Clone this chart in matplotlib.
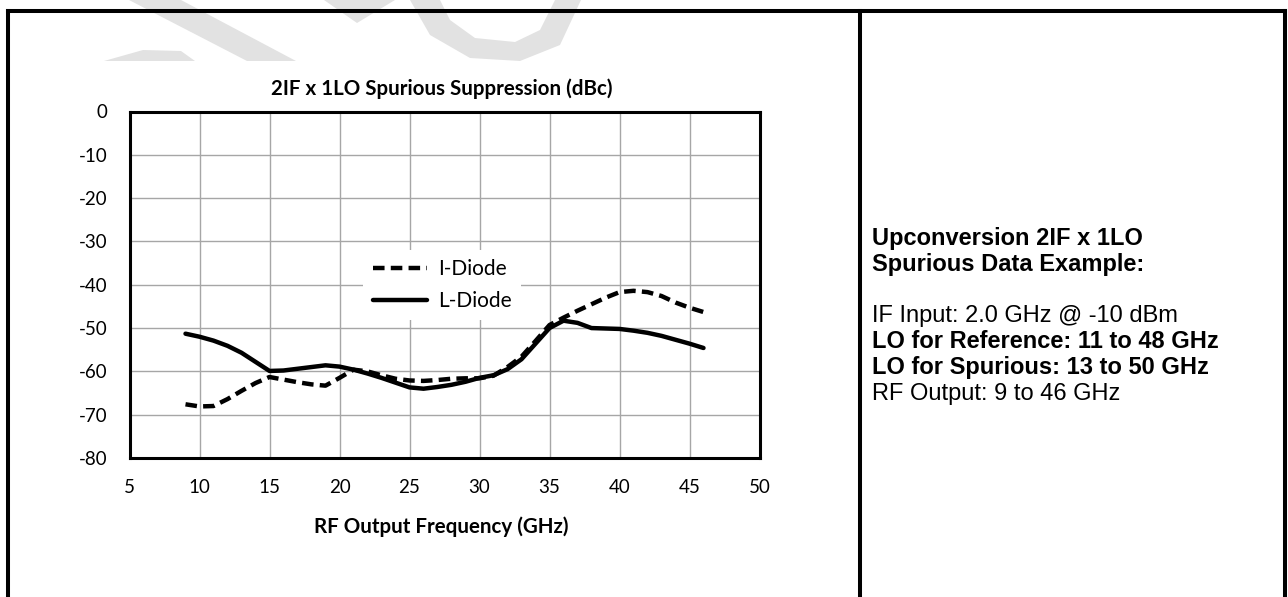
import matplotlib
matplotlib.use('Agg')
import matplotlib.pyplot as plt
from matplotlib.lines import Line2D
from matplotlib.patches import Polygon

plt.rcParams['axes.unicode_minus'] = False

# ---- data ----
freq_ghz = list(range(9, 47))
i_diode = [-67.6, -68.1, -68.0, -66.4, -64.5, -62.7, -61.3, -61.9, -62.5, -63.0,
           -63.3, -61.5, -59.6, -60.0, -60.9, -61.7, -62.1, -62.2, -62.0, -61.7,
           -61.6, -61.6, -61.0, -59.0, -56.6, -53.0, -49.3, -47.6, -46.0, -44.5,
           -43.0, -41.7, -41.4, -41.7, -42.6, -44.1, -45.3, -46.3]
l_diode = [-51.3, -52.0, -52.9, -54.1, -55.7, -57.8, -59.9, -59.8, -59.4, -59.0,
           -58.6, -58.9, -59.6, -60.5, -61.5, -62.6, -63.7, -64.0, -63.6, -63.1,
           -62.4, -61.5, -60.9, -59.5, -57.2, -53.6, -50.0, -48.3, -48.8, -50.0,
           -50.1, -50.2, -50.6, -51.1, -51.8, -52.7, -53.6, -54.6]
series_labels = ["I-Diode", "L-Diode"]
x_ticks = [5, 10, 15, 20, 25, 30, 35, 40, 45, 50]
y_ticks = [0, -10, -20, -30, -40, -50, -60, -70, -80]
title = "2IF x 1LO Spurious Suppression (dBc)"
x_label = "RF Output Frequency (GHz)"
info_lines = [
    ("Upconversion 2IF x 1LO", "bold"),
    ("Spurious Data Example:", "bold"),
    ("IF Input: 2.0 GHz @ -10 dBm", "normal"),
    ("LO for Reference: 11 to 48 GHz", "bold"),
    ("LO for Spurious: 13 to 50 GHz", "bold"),
    ("RF Output: 9 to 46 GHz", "normal"),
]

W, H = 1288, 597
fig = plt.figure(figsize=(W / 100, H / 100), dpi=100)
fig.patch.set_facecolor('white')

def fx(px):
    return px / W

def fy(py):
    return 1 - py / H

CH_FONT = 'Lato'

# ---- faint watermark fragments at the top ----
wm_color = '#e2e2e2'
wm_shapes = [
    [(104, 61), (143, 50), (181, 51), (195, 61)],
    [(129, 0), (181, 0), (296, 61), (247, 61)],
    [(324, 0), (395, 0), (357, 23)],
    [(410, 0), (430, 35), (470, 58), (520, 61), (560, 45), (581, 0),
     (555, 0), (540, 30), (515, 42), (475, 38), (450, 20), (440, 0)],
]
for pts in wm_shapes:
    fig.add_artist(Polygon([(fx(a), fy(b)) for a, b in pts], closed=True,
                           transform=fig.transFigure, facecolor=wm_color,
                           edgecolor='none', zorder=0))

ax = fig.add_axes([fx(129.5), fy(458), fx(759.5) - fx(129.5), fy(111.5) - fy(458)])
ax.plot(freq_ghz, i_diode, color='black', lw=3.2, linestyle=(0, (2.6, 1.4)),
        label=series_labels[0], zorder=3)
ax.plot(freq_ghz, l_diode, color='black', lw=3.2, label=series_labels[1],
        solid_capstyle='round', zorder=3)
ax.set_xlim(5, 50)
ax.set_ylim(-80, 0)
ax.set_xticks(x_ticks)
ax.set_yticks(y_ticks)
ax.grid(True, color='#a6a6a6', lw=1.0)
ax.set_axisbelow(True)
for s in ax.spines.values():
    s.set_linewidth(2.2)
    s.set_color('black')
ax.tick_params(length=0, labelsize=13.5, colors='black')
ax.tick_params(axis='y', pad=16)
ax.tick_params(axis='x', pad=15)
for lab in ax.get_xticklabels() + ax.get_yticklabels():
    lab.set_fontfamily(CH_FONT)

leg = ax.legend(loc='upper left', bbox_to_anchor=(0.371, 0.60), borderaxespad=0,
                frameon=True, fancybox=False, framealpha=1, edgecolor='none',
                facecolor='white', prop={'family': CH_FONT, 'size': 15},
                handlelength=2.6, handletextpad=0.55, borderpad=0.45,
                labelspacing=0.55)

fig.text(fx(442), fy(89), title, ha='center', va='center', fontsize=14.8,
         fontweight='bold', family=CH_FONT)
fig.text(fx(441), fy(527), x_label, ha='center', va='center', fontsize=14.8,
         fontweight='bold', family=CH_FONT)

# ---- outer frame ----
lw_frame = 2.9
def fline(x0, y0, x1, y1):
    fig.add_artist(Line2D([fx(x0), fx(x1)], [fy(y0), fy(y1)], transform=fig.transFigure,
                          color='black', lw=lw_frame, solid_capstyle='projecting'))

fline(8, 10.5, 1285, 10.5)
fline(8, 10.5, 8, 600)
fline(860, 10.5, 860, 600)
fline(1285, 10.5, 1285, 600)

# ---- info text ----
baselines = [245, 271, 322, 348, 374, 400]
for (txt, wt), yb in zip(info_lines, baselines):
    fig.text(fx(872), fy(yb), txt, ha='left', va='baseline', fontsize=17,
             fontweight=wt, family='Liberation Sans', color='black')

fig.savefig('out.png', dpi=100, facecolor='white')
